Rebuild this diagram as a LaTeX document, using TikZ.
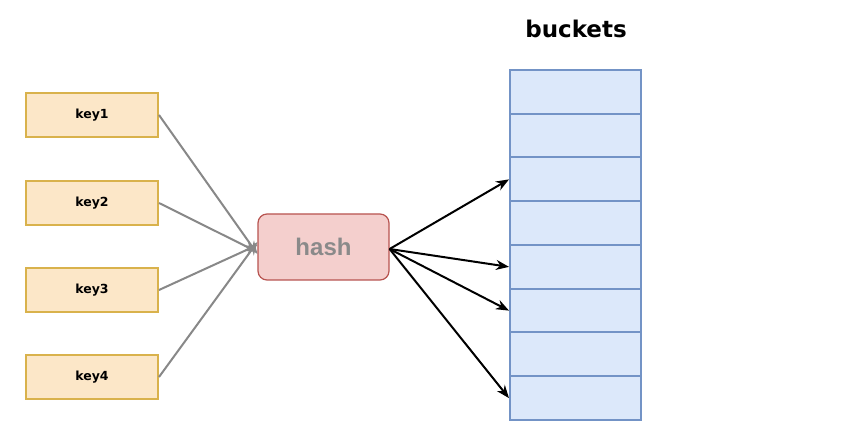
\documentclass[tikz,border=0pt]{standalone}
\usepackage{fontspec}
\setmainfont{DejaVu Sans}
\newfontfamily\hashfont{Liberation Sans}
\usetikzlibrary{arrows.meta}
\definecolor{keyfill}{HTML}{FCE7C8}
\definecolor{keydraw}{HTML}{D9B24C}
\definecolor{hashfill}{HTML}{F4CFCD}
\definecolor{hashdraw}{HTML}{B85450}
\definecolor{hashtext}{HTML}{8A8A8A}
\definecolor{bucketfill}{HTML}{DCE8FA}
\definecolor{bucketdraw}{HTML}{7393C6}
\definecolor{grayline}{HTML}{888888}
\tikzset{
  keybox/.style={draw=keydraw, fill=keyfill, line width=2pt, minimum width=132pt, minimum height=44pt, inner sep=0pt, font=\fontsize{12.5}{14}\selectfont\bfseries},
  hashbox/.style={draw=hashdraw, fill=hashfill, line width=1.2pt, rounded corners=9pt, minimum width=131pt, minimum height=66pt, inner sep=0pt, text=hashtext, font=\hashfont\fontsize{24}{27}\selectfont\bfseries},
  cell/.style={draw=bucketdraw, fill=bucketfill, line width=2pt, minimum width=131pt, minimum height=43.75pt, inner sep=0pt},
  inarrow/.style={draw=grayline, line width=2pt, -{Stealth[length=13pt,width=10pt]}},
  outarrow/.style={draw=black, line width=2pt, -{Stealth[length=13pt,width=10pt]}},
}
\begin{document}
\begin{tikzpicture}[x=1pt,y=-1pt]
\useasboundingbox[fill=white] (0,0) rectangle (843,435);
\node[keybox] (k1) at (92,115) {key1};
\node[keybox] (k2) at (92,203) {key2};
\node[keybox] (k3) at (92,290) {key3};
\node[keybox] (k4) at (92,377) {key4};
\node[hashbox] (hash) at (323.5,247) {hash};
\foreach \i in {1,...,8}{
  \node[cell] (b\i) at (575.5,{70+43.75*(\i-0.5)}) {};
}
\node[font=\fontsize{23}{27}\selectfont\bfseries] (title) at (576,29) {buckets};
\coordinate (hin1) at ([yshift=-7pt]hash.west);
\coordinate (hin2) at ([yshift=-5pt]hash.west);
\coordinate (hin3) at ([yshift=2pt]hash.west);
\coordinate (hin4) at ([yshift=5pt]hash.west);
\coordinate (hout) at ([yshift=-2pt]hash.east);
\draw[inarrow] (k1.east) -- (hin1);
\draw[inarrow] (k2.east) -- (hin2);
\draw[inarrow] (k3.east) -- (hin3);
\draw[inarrow] (k4.east) -- (hin4);
\draw[outarrow] (hout) -- (b3.west);
\draw[outarrow] (hout) -- (b5.west);
\draw[outarrow] (hout) -- (b6.west);
\draw[outarrow] (hout) -- (b8.west);
\end{tikzpicture}
\end{document}
